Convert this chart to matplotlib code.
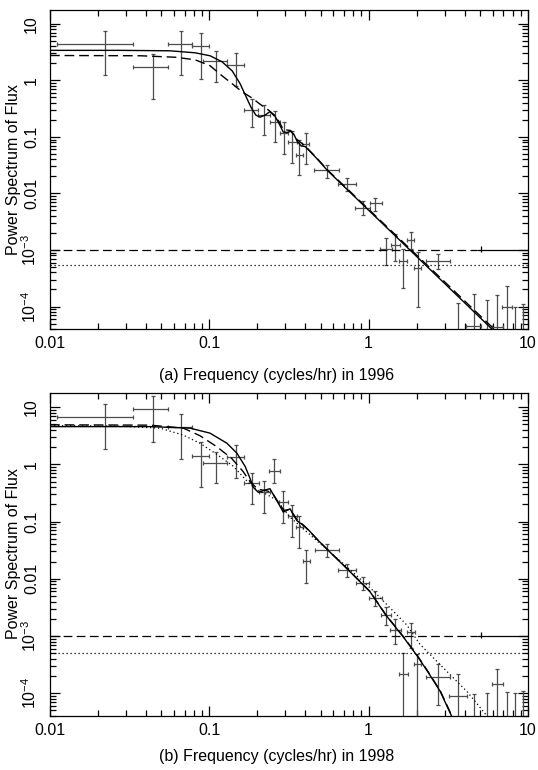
import numpy as np
import matplotlib
matplotlib.use('Agg')
import matplotlib.pyplot as plt
from matplotlib.ticker import LogLocator, NullFormatter

plt.rcParams['font.family'] = ['Liberation Sans', 'DejaVu Sans']
plt.rcParams['mathtext.default'] = 'regular'

# ---- 1996 power spectrum points (freq in cycles/hr) ----
f96 = np.array([0.0221, 0.0442, 0.0664, 0.0883, 0.110, 0.147, 0.185, 0.220, 0.258, 0.294,
                0.332, 0.367, 0.404, 0.551, 0.734, 0.927, 1.096, 1.280, 1.465, 1.651,
                1.845, 2.033, 2.74, 3.66, 4.59, 5.51, 6.43, 7.36, 8.30, 9.27])
flo96 = np.array([0.0110, 0.0330, 0.0552, 0.0777, 0.0911, 0.130, 0.166, 0.203, 0.240, 0.278,
                  0.313, 0.348, 0.384, 0.456, 0.644, 0.822, 1.02, 1.180, 1.377, 1.560,
                  1.734, 1.936, 2.29, 3.45, 4.09, 5.2, 5.98, 6.90, 7.9, 8.8])
fhi96 = np.array([0.0330, 0.0554, 0.0777, 0.100, 0.130, 0.166, 0.203, 0.240, 0.278, 0.313,
                  0.356, 0.389, 0.425, 0.652, 0.830, 1.02, 1.208, 1.396, 1.574, 1.749,
                  1.936, 2.124, 3.24, 3.88, 5.06, 5.8, 7.01, 7.91, 8.7, 9.8])
p96 = np.array([4.44, 1.72, 4.44, 3.98, 2.16, 1.89, 0.304, 0.248, 0.185, 0.118,
                0.0807, 0.0475, 0.0755, 0.0255, 0.01446, 0.00562, 0.00668, 0.00106, 0.00123, 0.000627,
                0.00149, 0.000472, 0.000643, 1e-5, 4.48e-5, 1e-5, 4.3e-5, 9.9e-5, 1e-5, 1e-5])
plo96 = np.array([1.26, 0.475, 1.26, 1.08, 0.922, 0.784, 0.147, 0.107, 0.0807, 0.0509,
                  0.0349, 0.0208, 0.0326, 0.0190, 0.0110, 0.00411, 0.00489, 0.000539, 0.000643, 0.000212,
                  0.00106, 9.7e-5, 0.000458, 1e-6, 1e-6, 1e-6, 1e-6, 1e-6, 1e-6, 1e-6])
phi96 = np.array([7.62, 2.92, 7.62, 6.85, 3.25, 3.04, 0.470, 0.373, 0.284, 0.185,
                  0.126, 0.090, 0.118, 0.0313, 0.0190, 0.00735, 0.00843, 0.00160, 0.00190, 0.00103,
                  0.00208, 0.000904, 0.000843, 1.14e-4, 1.66e-4, 1.30e-4, 1.61e-4, 2.27e-4, 9.7e-5, 1.11e-4])

# model curves 1996
m96_solid_f = [0.01, 0.0275, 0.0566, 0.0813, 0.101, 0.120, 0.139, 0.156, 0.170, 0.183,
               0.196, 0.208, 0.224, 0.240, 0.255, 0.274, 0.291, 0.308, 0.324, 0.340,
               0.355, 0.377, 0.399, 0.423, 0.472, 0.551, 5.93]
m96_solid_p = [3.4, 3.4, 3.34, 3.08, 2.73, 2.14, 1.48, 0.875, 0.516, 0.330,
               0.243, 0.224, 0.243, 0.281, 0.248, 0.172, 0.122, 0.120, 0.126, 0.110,
               0.0847, 0.0692, 0.0677, 0.0575, 0.0416, 0.0255, 4.0e-5]
m96_dash_f = [0.01, 0.0367, 0.0610, 0.0813, 0.101, 0.120, 0.139, 0.160, 0.185, 0.208,
              0.240, 0.274, 0.291, 0.324, 0.355, 0.399, 0.472, 0.551, 6.12]
m96_dash_p = [2.76, 2.73, 2.57, 2.32, 1.82, 1.21, 0.875, 0.632, 0.490, 0.380,
              0.286, 0.187, 0.135, 0.130, 0.090, 0.0692, 0.0425, 0.0261, 4.0e-5]
noise96 = 1e-3
dot96 = 5.46e-4

# ---- 1998 power spectrum points ----
f98 = np.array([0.0221, 0.0442, 0.0664, 0.0887, 0.110, 0.147, 0.184, 0.220, 0.256, 0.291,
                0.332, 0.367, 0.404, 0.551, 0.734, 0.927, 1.096, 1.280, 1.465, 1.651,
                1.845, 2.02, 2.74, 3.66, 4.59, 5.51, 6.43, 7.36, 8.30, 9.27])
flo98 = np.array([0.0110, 0.0330, 0.0552, 0.0777, 0.0917, 0.129, 0.166, 0.205, 0.238, 0.275,
                  0.313, 0.348, 0.386, 0.461, 0.644, 0.830, 1.01, 1.191, 1.362, 1.560,
                  1.734, 1.932, 2.29, 3.21, 4.3, 5.2, 5.98, 7.0, 7.9, 8.8])
fhi98 = np.array([0.0333, 0.0554, 0.0777, 0.100, 0.130, 0.166, 0.205, 0.240, 0.278, 0.313,
                  0.354, 0.389, 0.428, 0.652, 0.830, 1.01, 1.208, 1.377, 1.590, 1.760,
                  1.954, 2.124, 3.24, 4.17, 4.9, 5.8, 7.01, 7.7, 8.7, 9.8])
p98 = np.array([6.59, 9.22, 4.40, 1.42, 1.04, 1.36, 0.464, 0.323, 0.762, 0.218,
                0.123, 0.0817, 0.0201, 0.0323, 0.01439, 0.00841, 0.00470, 0.00237, 0.00126, 0.000218,
                0.00117, 0.000327, 0.000191, 8.86e-5, 1e-5, 1e-5, 0.000146, 1e-5, 1e-5, 1e-5])
plo98 = np.array([1.83, 2.50, 1.24, 0.395, 0.464, 0.585, 0.201, 0.143, 0.477, 0.0949,
                  0.0531, 0.0346, 0.00828, 0.0243, 0.01083, 0.00641, 0.00336, 0.00153, 0.000714, 1e-6,
                  0.000624, 1e-6, 6.15e-5, 1e-6, 1e-6, 1e-6, 1e-6, 1e-6, 1e-6, 1e-6])
phi98 = np.array([11.3, 15.4, 7.63, 2.43, 1.63, 2.13, 0.715, 0.509, 1.22, 0.340,
                  0.191, 0.127, 0.0319, 0.0407, 0.0181, 0.01054, 0.00615, 0.00323, 0.00196, 0.000509,
                  0.00171, 0.000489, 0.000327, 0.000218, 9.5e-5, 9.9e-5, 0.000267, 1.05e-4, 1.01e-4, 1.08e-4])

m98_solid_f = [0.01, 0.0425, 0.0757, 0.101, 0.129, 0.149, 0.168, 0.180, 0.189, 0.203,
               0.220, 0.240, 0.265, 0.291, 0.321, 0.354, 0.389, 0.423, 0.472, 0.551,
               0.764, 1.02, 1.28, 1.65, 2.02, 2.36, 2.81, 3.34]
m98_solid_p = [4.55, 4.55, 4.28, 3.50, 2.33, 1.56, 0.912, 0.568, 0.395, 0.323,
               0.350, 0.375, 0.233, 0.146, 0.167, 0.104, 0.0851, 0.0695, 0.0497, 0.0323,
               0.01327, 0.00592, 0.00233, 0.00096, 0.000446, 0.000233, 0.000108, 3.8e-5]
m98_dash_f = [0.01, 0.0425, 0.0687, 0.0874, 0.111, 0.138, 0.163, 0.180, 0.202, 0.224,
              0.247, 0.274, 0.294, 0.321, 0.355, 0.399, 0.472, 0.551, 0.764, 1.02,
              1.28, 1.65, 2.02, 2.36, 2.81, 3.36]
m98_dash_p = [4.89, 4.83, 4.28, 3.15, 2.04, 1.27, 0.745, 0.497, 0.364, 0.350,
              0.323, 0.207, 0.156, 0.163, 0.1085, 0.0817, 0.0497, 0.0325, 0.0134, 0.0060,
              0.00236, 0.00098, 0.000455, 0.000238, 0.000111, 3.8e-5]
m98_dot_f = [0.01, 0.0275, 0.0490, 0.0687, 0.0874, 0.111, 0.1415, 0.1717, 0.1984, 0.229,
             0.265, 0.321, 0.472, 0.661, 1.070, 1.734, 2.10, 2.94, 4.13, 5.62]
m98_dot_p = [4.74, 4.64, 4.28, 3.23, 2.33, 1.50, 0.923, 0.514, 0.354, 0.298,
             0.237, 0.119, 0.0464, 0.0207, 0.00615, 0.00156, 0.000714, 0.000278, 0.000108, 3.8e-5]
noise98 = 1e-3
dot98 = 5.0e-4

# noise-level marker (same in both panels)
noise_f = 5.1
noise_lo = 4.79
noise_plo = 9.1e-4
noise_phi = 1.18e-3

ytick_vals = [1e-4, 1e-3, 0.01, 0.1, 1, 10]
ytick_labs = ['$10^{-4}$', '$10^{-3}$', '0.01', '0.1', '1', '10']
xtick_vals = [0.01, 0.1, 1, 10]
xtick_labs = ['0.01', '0.1', '1', '10']

DASH = (7, 3.5)
EC = '0.3'


def panel(ax, f, flo, fhi, p, plo, phi, noise, dotlev):
    ax.set_xscale('log')
    ax.set_yscale('log')
    ax.errorbar(f, p, xerr=[f - flo, fhi - f], yerr=[p - plo, phi - p], fmt='none',
                ecolor=EC, elinewidth=0.9, capsize=1.6, capthick=0.9)
    ax.plot([0.01, noise_lo], [noise, noise], color='k', lw=0.9, dashes=DASH)
    ax.errorbar([noise_f], [noise], xerr=[[noise_f - noise_lo], [10 - noise_f]],
                yerr=[[noise - noise_plo], [noise_phi - noise]], fmt='none',
                ecolor='k', elinewidth=0.9, capsize=0)
    ax.axhline(dotlev, color='k', lw=0.9, ls=(0, (1, 2.2)))
    ax.set_xlim(0.01, 10)
    ax.set_ylim(4.0e-5, 17.6)
    ax.set_xticks(xtick_vals)
    ax.set_xticklabels(xtick_labs)
    ax.set_yticks(ytick_vals)
    ax.set_yticklabels(ytick_labs, rotation=90, va='center')
    ax.xaxis.set_minor_locator(LogLocator(base=10, subs=np.arange(2, 10), numticks=20))
    ax.yaxis.set_minor_locator(LogLocator(base=10, subs=np.arange(2, 10), numticks=20))
    ax.xaxis.set_minor_formatter(NullFormatter())
    ax.yaxis.set_minor_formatter(NullFormatter())
    ax.tick_params(which='both', direction='in', top=True, right=True, width=0.9,
                   labelsize=11.5)
    ax.tick_params(which='major', length=7.5)
    ax.tick_params(which='minor', length=4)
    ax.tick_params(axis='x', pad=5)
    ax.tick_params(axis='y', pad=8)
    for s in ax.spines.values():
        s.set_linewidth(0.9)


fig = plt.figure(figsize=(5.38, 7.7), dpi=100)
ax1 = fig.add_axes([50 / 538, 1 - 329 / 770, 478 / 538, 319 / 770])
ax2 = fig.add_axes([50 / 538, 1 - 716 / 770, 478 / 538, 323 / 770])

panel(ax1, f96, flo96, fhi96, p96, plo96, phi96, noise96, dot96)
ax1.plot(m96_solid_f, m96_solid_p, color='k', lw=1.0)
ax1.plot(m96_dash_f, m96_dash_p, color='k', lw=1.0, dashes=DASH)

panel(ax2, f98, flo98, fhi98, p98, plo98, phi98, noise98, dot98)
ax2.plot(m98_solid_f, m98_solid_p, color='k', lw=1.0)
ax2.plot(m98_dash_f, m98_dash_p, color='k', lw=1.0, dashes=DASH)
ax2.plot(m98_dot_f, m98_dot_p, color='k', lw=0.9, ls=(0, (1, 2.2)))

fig.text(277 / 538, 1 - 376 / 770, '(a) Frequency (cycles/hr) in 1996',
         ha='center', va='center', fontsize=11.5)
fig.text(277 / 538, 1 - 757 / 770, '(b) Frequency (cycles/hr) in 1998',
         ha='center', va='center', fontsize=11.5)
fig.text(14 / 538, 1 - 170 / 770, 'Power Spectrum of Flux', rotation=90,
         ha='center', va='center', fontsize=11.5)
fig.text(14 / 538, 1 - 554 / 770, 'Power Spectrum of Flux', rotation=90,
         ha='center', va='center', fontsize=11.5)

fig.savefig('out.png', dpi=100)
